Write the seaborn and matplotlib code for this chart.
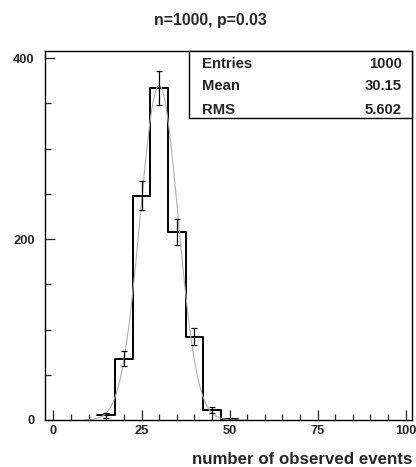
import numpy as np
import pandas as pd
import matplotlib
matplotlib.use("Agg")
import matplotlib.pyplot as plt
from matplotlib import font_manager
from matplotlib.ticker import MultipleLocator
import seaborn as sns

# ---- data ----
bin_centers = [15, 20, 25, 30, 35, 40, 45, 50]
counts = [5, 68, 248, 367, 208, 92, 11, 1]
bin_width = 5
n_trials = 1000
p_success = 0.03
entries = 1000
stat_labels = ["Entries", "Mean", "RMS"]
stat_values = ["1000", "30.15", "5.602"]
title = "n=1000, p=0.03"
xlabel = "number of observed events"
x_ticks = [0, 25, 50, 75, 100]
y_ticks = [0, 200, 400]

sns.set_style("ticks")

bold_path = None
for f in font_manager.findSystemFonts():
    if f.endswith("LiberationSans-Bold.ttf"):
        bold_path = f
        break
plt.rcParams["font.family"] = ["Liberation Sans", "DejaVu Sans"]
plt.rcParams["font.weight"] = "bold"


def fp(size):
    if bold_path:
        return font_manager.FontProperties(fname=bold_path, size=size)
    return font_manager.FontProperties(family="DejaVu Sans", weight="bold", size=size)


W, H = 416, 467
fig = plt.figure(figsize=(W / 100, H / 100), dpi=100)
ax = fig.add_axes([45 / W, 1 - 420 / H, (412 - 45) / W, (420 - 51) / H])

df = pd.DataFrame({"x": bin_centers, "w": counts})
edges = [c - bin_width / 2 for c in bin_centers] + [bin_centers[-1] + bin_width / 2]
sns.histplot(data=df, x="x", weights="w", bins=edges, element="step", fill=False,
             color="black", linewidth=1.4, ax=ax)

# theoretical curve (gaussian approx. of binomial from title parameters)
mu = n_trials * p_success
sigma = np.sqrt(n_trials * p_success * (1 - p_success))
xs = np.linspace(9, 55, 300)
ys = entries * bin_width * np.exp(-0.5 * ((xs - mu) / sigma) ** 2) / (np.sqrt(2 * np.pi) * sigma)
sns.lineplot(x=xs, y=ys, color="#b0b0b0", linewidth=0.8, ax=ax)

ax.errorbar(bin_centers, counts, yerr=np.sqrt(counts), fmt="none", ecolor="black",
            elinewidth=0.9, capsize=2.5, capthick=0.9)

ax.set_xlim(-2.4, 101.8)
ax.set_ylim(0, 408)
ax.xaxis.set_minor_locator(MultipleLocator(5))
ax.yaxis.set_minor_locator(MultipleLocator(50))
ax.tick_params(which="major", direction="in", length=7, width=0.9)
ax.tick_params(which="minor", direction="in", length=4, width=0.9)
ax.tick_params(axis="x", which="major", pad=3.5)
ax.tick_params(axis="y", which="major", pad=7.5)
ax.set_xticks(x_ticks, labels=[str(t) for t in x_ticks], fontproperties=fp(9.3))
ax.set_yticks(y_ticks, labels=[str(t) for t in y_ticks], fontproperties=fp(9.3))
for s in ax.spines.values():
    s.set_visible(True)
    s.set_linewidth(1.0)
    s.set_color("black")
ax.set_xlabel("")
ax.set_ylabel("")

fig.text(210 / W, 1 - 25.5 / H, title, ha="center", va="baseline", fontproperties=fp(11.4))
fig.text(412 / W, 1 - 463.5 / H, xlabel, ha="right", va="baseline", fontproperties=fp(12.2))

# stats box
bx0, bx1 = 189, 412
by0, by1 = 51, 117.5
ax.add_patch(plt.Rectangle((bx0 / W, 1 - by1 / H), (bx1 - bx0) / W, (by1 - by0) / H,
                           transform=fig.transFigure, fill=True, facecolor="white",
                           edgecolor="black", linewidth=1.0, zorder=5, clip_on=False))
row_y = [63, 85, 108]
for lab, val, yy in zip(stat_labels, stat_values, row_y):
    fig.text(202 / W, 1 - yy / H, lab, ha="left", va="center_baseline", fontproperties=fp(10.7),
             zorder=6)
    fig.text(402 / W, 1 - yy / H, val, ha="right", va="center_baseline", fontproperties=fp(10.7),
             zorder=6)

fig.savefig("out.png", dpi=100)
